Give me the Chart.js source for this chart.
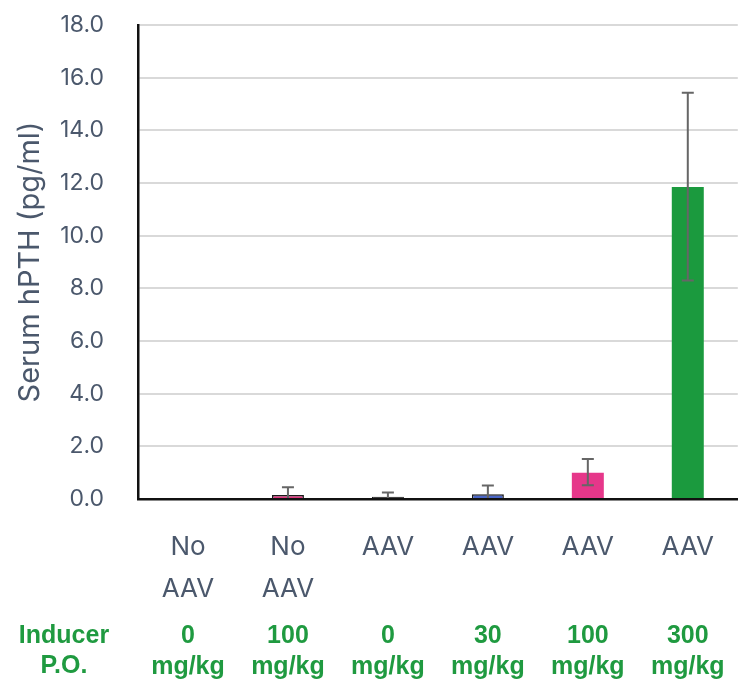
<!DOCTYPE html>
<html>
<head>
<meta charset="utf-8">
<script src="https://cdn.jsdelivr.net/npm/chart.js@4"></script>
<style>
  body { margin: 0; background: #fff; }
  #wrap { width: 741px; height: 683px; position: relative; }
</style>
</head>
<body>
<div id="wrap"><canvas id="chartPTH"></canvas></div>
<script>
// datos
const categorias = [['No', 'AAV'], ['No', 'AAV'], ['AAV'], ['AAV'], ['AAV'], ['AAV']];
const dosis = ['0', '100', '0', '30', '100', '300'];
const valores = [0.02, 0.15, 0.09, 0.18, 1.0, 11.85];
const errorAlto = [0, 0.45, 0.25, 0.51, 1.52, 15.43];
const errorBajo = [0, 0, 0, 0, 0.52, 8.3];
const colores = ['#1a1a1a', '#e0357f', '#1a1a1a', '#4a66c8', '#e6378a', '#1b9a3e'];
const yTicks = [0, 2, 4, 6, 8, 10, 12, 14, 16, 18];

const textoGris = '#4b586c';
const verde = '#1f9a40';

const errorBars = {
    id: 'errorBars',
    afterDatasetsDraw(chart) {
        const ctx = chart.ctx;
        const y = chart.scales.y;
        const meta = chart.getDatasetMeta(0);
        ctx.save();
        ctx.strokeStyle = '#666666';
        ctx.lineWidth = 2;
        for (let i = 0; i < valores.length; i++) {
            if (errorAlto[i] <= 0) continue;
            const x = meta.data[i].x;
            const yA = y.getPixelForValue(errorAlto[i]);
            const yB = y.getPixelForValue(errorBajo[i]);
            ctx.beginPath();
            ctx.moveTo(x, yA);
            ctx.lineTo(x, yB);
            ctx.moveTo(x - 6, yA);
            ctx.lineTo(x + 6, yA);
            if (errorBajo[i] > 0) {
                ctx.moveTo(x - 6, yB);
                ctx.lineTo(x + 6, yB);
            }
            ctx.stroke();
        }
        ctx.restore();
    }
};

const filaInductor = {
    id: 'filaInductor',
    afterDraw(chart) {
        const ctx = chart.ctx;
        const xs = chart.scales.x;
        ctx.save();
        ctx.fillStyle = verde;
        ctx.font = 'bold 25px "Liberation Sans", Arial, sans-serif';
        ctx.textAlign = 'center';
        ctx.textBaseline = 'middle';
        ctx.fillText('Inducer', 64, 636);
        ctx.fillText('P.O.', 64, 666);
        for (let i = 0; i < dosis.length; i++) {
            const x = xs.getPixelForValue(i);
            ctx.fillText(dosis[i], x, 636);
            ctx.fillText('mg/kg', x, 667);
        }
        ctx.restore();
    }
};

const config = {
    type: 'bar',
    data: {
        labels: categorias,
        datasets: [{
            data: valores,
            backgroundColor: colores,
            borderColor: '#1a1a1a',
            borderWidth: [1.5, 1.5, 1.5, 1.5, 0, 0],
            barPercentage: 0.32,
            categoryPercentage: 1.0
        }]
    },
    options: {
        responsive: true,
        maintainAspectRatio: false,
        animation: false,
        layout: { padding: { top: 25, right: 0, bottom: 0, left: 0 } },
        plugins: {
            legend: { display: false },
            tooltip: { enabled: false }
        },
        scales: {
            x: {
                afterFit(scale) { scale.height = 184; },
                grid: { display: false, drawTicks: false },
                border: { display: true, color: '#111111', width: 2.5, z: 1 },
                ticks: {
                    color: textoGris,
                    font: { family: 'Inter, "Open Sans", sans-serif', size: 26, lineHeight: 1.62 },
                    padding: 27,
                    maxRotation: 0,
                    autoSkip: false
                }
            },
            y: {
                min: 0,
                max: 18,
                afterFit(scale) { scale.width = 138; },
                afterBuildTicks(scale) {
                    scale.ticks = yTicks.map(v => ({ value: v }));
                },
                grid: { color: '#d9d9d9', lineWidth: 2, drawTicks: true, tickLength: 34, tickColor: 'rgba(0,0,0,0)' },
                border: { display: true, color: '#111111', width: 2.5, z: 1 },
                ticks: {
                    color: textoGris,
                    font: { family: 'Inter, "Open Sans", sans-serif', size: 23 },
                    padding: 0,
                    callback: v => Number(v).toFixed(1)
                },
                title: {
                    display: true,
                    text: 'Serum hPTH (pg/ml)',
                    color: textoGris,
                    font: { family: 'Inter, "Open Sans", sans-serif', size: 29 },
                    padding: { top: 13, bottom: 0 }
                }
            }
        }
    },
    plugins: [errorBars, filaInductor]
};

window.onload = function () {
    new Chart(document.getElementById('chartPTH'), config);
};
</script>
</body>
</html>
